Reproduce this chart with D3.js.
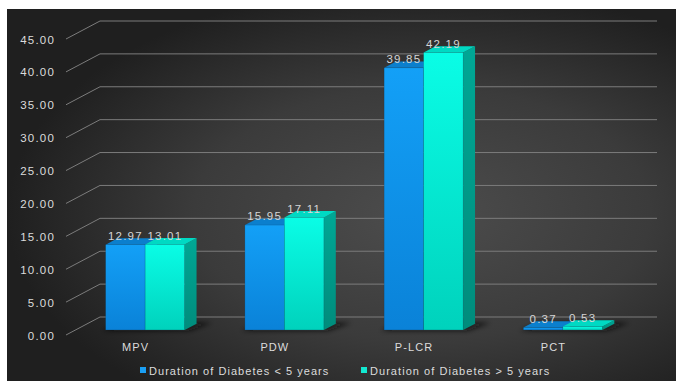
<!DOCTYPE html>
<html>
<head>
<meta charset="utf-8">
<script src="https://cdn.jsdelivr.net/npm/d3@7"></script>
<style>
  html, body { margin: 0; padding: 0; background: #ffffff; }
  svg { display: block; }
  text { font-family: "Liberation Sans", Arial, sans-serif; }
</style>
</head>
<body>
<script>
// Platelet indices by duration of diabetes
const categories = ["MPV", "PDW", "P-LCR", "PCT"];
const seriesNames = ["Duration of Diabetes < 5 years", "Duration of Diabetes > 5 years"];
const under5 = [12.97, 15.95, 39.85, 0.37];
const over5 = [13.01, 17.11, 42.19, 0.53];
const yTicks = [0, 5, 10, 15, 20, 25, 30, 35, 40, 45];

const W = 676, H = 381;

// 3D projection: front plane plus a depth vector
const frontLeft = 66, frontRight = 623, frontZero = 335;
const depthX = 34, depthY = -18;
const barDepth0 = 0.28, barDepth1 = 0.63;

const svg = d3.select("body").append("svg").attr("width", W).attr("height", H);
const defs = svg.append("defs");

// panel background
const bg = defs.append("radialGradient").attr("id", "bg")
  .attr("cx", "62%").attr("cy", "55%").attr("r", "62%");
bg.append("stop").attr("offset", "0%").attr("stop-color", "#4d4d4d");
bg.append("stop").attr("offset", "55%").attr("stop-color", "#3b3b3b");
bg.append("stop").attr("offset", "100%").attr("stop-color", "#1f1f1f");

function vgrad(id, top, bottom) {
  const g = defs.append("linearGradient").attr("id", id)
    .attr("x1", 0).attr("y1", 0).attr("x2", 0).attr("y2", 1);
  g.append("stop").attr("offset", "0%").attr("stop-color", top);
  g.append("stop").attr("offset", "100%").attr("stop-color", bottom);
}
vgrad("front0", "#13a0f7", "#0a82d8");
vgrad("front1", "#0afde6", "#00d2bc");
vgrad("side0", "#0a72bb", "#075f9e");
vgrad("side1", "#00a795", "#008c7c");
const topColors = ["#0b7fcd", "#00d9c3"];
const fronts = ["url(#front0)", "url(#front1)"];
const sides = ["url(#side0)", "url(#side1)"];
const legendColors = ["#1a9ff5", "#12e8d0"];

const shadowBlur = defs.append("filter").attr("id", "shadow")
  .attr("x", "-30%").attr("y", "-200%").attr("width", "160%").attr("height", "500%");
shadowBlur.append("feGaussianBlur").attr("stdDeviation", 2.5);

svg.append("rect").attr("x", 7).attr("y", 9).attr("width", W - 7).attr("height", H - 9)
  .attr("fill", "url(#bg)");

// scales
const y = d3.scaleLinear().domain([0, 45]).range([frontZero, frontZero - 296]);
const x0 = d3.scaleBand().domain(categories).range([frontLeft, frontRight]).paddingInner(0).paddingOuter(0);
const barW = 39.5;
const outerPad = (x0.bandwidth() / barW - 2) / 2;
const x1 = d3.scaleBand().domain([0, 1]).range([0, x0.bandwidth()]).paddingInner(0).paddingOuter(outerPad);

const P = (x, v, d) => [x + d * depthX, y(v) + d * depthY];
const pts = arr => arr.map(p => p.join(",")).join(" ");

// gridlines: short diagonal on the side wall, long line on the back wall
const grid = svg.append("g").attr("stroke", "#7c7c7c").attr("stroke-width", 1).attr("fill", "none");
yTicks.forEach(t => {
  const a = P(frontLeft, t, 0), b = P(frontLeft, t, 1);
  grid.append("polyline").attr("points", pts([a, b, [657, b[1]]]));
});

// tick labels
svg.append("g").selectAll("text").data(yTicks).join("text")
  .attr("x", 55).attr("y", d => y(d) + 4.5)
  .attr("text-anchor", "end")
  .attr("font-size", 11.5).attr("letter-spacing", 1.2)
  .attr("fill", "#dcdcdc")
  .text(d => d.toFixed(2));

const data = categories.map((c, i) => ({ cat: c, vals: [under5[i], over5[i]] }));

// floor shadows
const shadows = svg.append("g").attr("filter", "url(#shadow)");
data.forEach(d => {
  const xl = x0(d.cat) + x1(0) - 2, xr = x0(d.cat) + x1(1) + barW + 6;
  const a = P(xl, 0, barDepth0 - 0.05), b = P(xr, 0, barDepth0 - 0.05);
  const c = P(xr + 8, 0, barDepth1 + 0.05), e = P(xl + 6, 0, barDepth1 + 0.05);
  shadows.append("polygon").attr("points", pts([a, b, c, e])).attr("fill", "#0d0d0d").attr("opacity", 0.75);
});

// bars
const bars = svg.append("g");
data.forEach(d => {
  d.vals.forEach((v, s) => {
    const xl = x0(d.cat) + x1(s), xr = xl + barW;
    const g = bars.append("g");
    // side face
    g.append("polygon")
      .attr("points", pts([P(xr, 0, barDepth0), P(xr, 0, barDepth1), P(xr, v, barDepth1), P(xr, v, barDepth0)]))
      .attr("fill", sides[s]);
    // top face
    g.append("polygon")
      .attr("points", pts([P(xl, v, barDepth0), P(xr, v, barDepth0), P(xr, v, barDepth1), P(xl, v, barDepth1)]))
      .attr("fill", topColors[s]);
    // front face
    const ft = P(xl, v, barDepth0), fb = P(xl, 0, barDepth0);
    g.append("rect")
      .attr("x", ft[0]).attr("y", ft[1])
      .attr("width", barW).attr("height", fb[1] - ft[1])
      .attr("fill", fronts[s])
      .attr("stroke", "rgba(0,40,70,0.25)").attr("stroke-width", 0.6);
  });
});

// value labels
const labels = svg.append("g");
data.forEach(d => {
  d.vals.forEach((v, s) => {
    const xc = x0(d.cat) + x1(s) + barW / 2 + barDepth0 * depthX;
    const yt = P(0, v, barDepth1)[1];
    labels.append("text")
      .attr("x", xc).attr("y", yt + 1.5)
      .attr("text-anchor", "middle")
      .attr("font-size", 11.5).attr("letter-spacing", 1.2)
      .attr("fill", "#d6d6d6")
      .text(v.toFixed(2));
  });
});

// category labels
svg.append("g").selectAll("text").data(categories).join("text")
  .attr("x", d => x0(d) + x0.bandwidth() / 2)
  .attr("y", 351)
  .attr("text-anchor", "middle")
  .attr("font-size", 11).attr("letter-spacing", 1.1)
  .attr("fill", "#dcdcdc")
  .text(d => d);

// legend
const legendX = [140, 361];
const legend = svg.append("g");
seriesNames.forEach((name, s) => {
  legend.append("rect").attr("x", legendX[s]).attr("y", 367).attr("width", 6).attr("height", 6)
    .attr("fill", legendColors[s]);
  legend.append("text").attr("x", legendX[s] + 9).attr("y", 374.5)
    .attr("font-size", 11).attr("letter-spacing", 1.05)
    .attr("fill", "#dcdcdc")
    .text(name);
});
</script>
</body>
</html>
